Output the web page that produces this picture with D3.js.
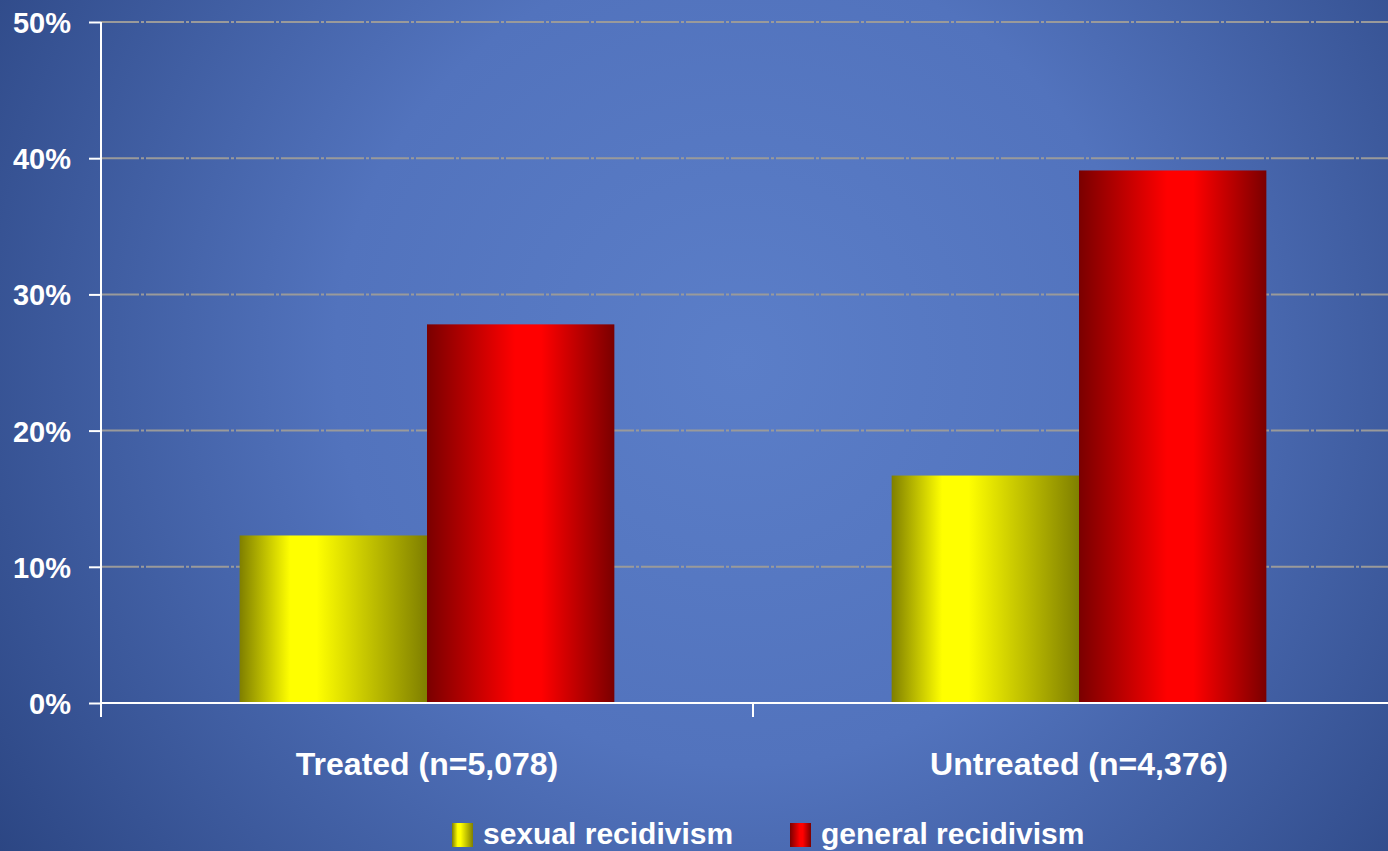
<!DOCTYPE html>
<html lang="en">
<head>
<meta charset="UTF-8">
<title>Recidivism bar chart</title>
<style>
  html, body { margin: 0; padding: 0; background: #4a69b0; overflow: hidden; }
  svg { display: block; }
  text { font-family: "Liberation Sans", Arial, sans-serif; font-weight: bold; fill: #fff; }
</style>
</head>
<body>
<div id="wrapper"></div>
<script src="https://d3js.org/d3.v7.min.js"></script>
<script>
// data
const categories = ["Treated (n=5,078)", "Untreated (n=4,376)"];
const seriesNames = ["sexual recidivism", "general recidivism"];
const sexualValues = [0.123, 0.167];
const generalValues = [0.278, 0.391];
const yTicks = [0, 0.1, 0.2, 0.3, 0.4, 0.5];

const dataset = categories.map((c, i) => ({
  category: c,
  values: [
    { key: seriesNames[0], value: sexualValues[i] },
    { key: seriesNames[1], value: generalValues[i] },
  ],
}));

const width = 1388, height = 851;
const margin = { top: 22, left: 101, bottom: 148 };
const plotBottom = height - margin.bottom; // 703
const plotRight = 1405; // category band runs a little past the edge

const svg = d3.select("#wrapper").append("svg")
  .attr("width", width)
  .attr("height", height);

const defs = svg.append("defs");

// background glow
const bg = defs.append("radialGradient")
  .attr("id", "bg")
  .attr("gradientUnits", "userSpaceOnUse")
  .attr("cx", 740).attr("cy", 360).attr("r", 900);
bg.append("stop").attr("offset", "0").attr("stop-color", "#5b7ec8");
bg.append("stop").attr("offset", "0.45").attr("stop-color", "#5273bd");
bg.append("stop").attr("offset", "1").attr("stop-color", "#2b4582");

// cylinder-like shading for bars
const shades = {
  "sexual recidivism": ["#7f7f00", "#ffff00"],
  "general recidivism": ["#7a0000", "#ff0000"],
};
const peaks = { "sexual recidivism": 0.35, "general recidivism": 0.55 };
seriesNames.forEach((s, i) => {
  const g = defs.append("linearGradient")
    .attr("id", "grad" + i)
    .attr("x1", "0").attr("x2", "1").attr("y1", "0").attr("y2", "0");
  g.append("stop").attr("offset", "0").attr("stop-color", shades[s][0]);
  g.append("stop").attr("offset", peaks[s] - 0.08).attr("stop-color", shades[s][1]);
  g.append("stop").attr("offset", peaks[s] + 0.06).attr("stop-color", shades[s][1]);
  g.append("stop").attr("offset", "1").attr("stop-color", shades[s][0]);
});
const color = d3.scaleOrdinal().domain(seriesNames).range(["url(#grad0)", "url(#grad1)"]);

svg.append("rect").attr("width", width).attr("height", height).attr("fill", "url(#bg)");

// scales
const x0 = d3.scaleBand().domain(categories).range([margin.left, plotRight]).padding(0);
const x1 = d3.scaleBand().domain(seriesNames).range([0, x0.bandwidth()])
  .paddingInner(0).paddingOuter(0.74);
const yScale = d3.scaleLinear().domain([0, 0.5]).range([plotBottom, margin.top]);

// gridlines
svg.append("g")
  .selectAll("line")
  .data(yTicks.filter(d => d > 0))
  .join("line")
  .attr("x1", margin.left).attr("x2", width)
  .attr("y1", d => yScale(d)).attr("y2", d => yScale(d))
  .attr("stroke", "#9a9a9a")
  .attr("stroke-width", 2)
  .attr("stroke-dasharray", "38,2,3,2");

// bars
const groups = svg.append("g")
  .selectAll("g")
  .data(dataset)
  .join("g")
  .attr("transform", d => `translate(${x0(d.category)},0)`);

groups.selectAll("rect")
  .data(d => d.values)
  .join("rect")
  .attr("x", d => x1(d.key))
  .attr("width", x1.bandwidth())
  .attr("y", d => yScale(d.value))
  .attr("height", d => plotBottom - yScale(d.value))
  .attr("fill", d => color(d.key));

// y axis
const yAxis = svg.append("g")
  .attr("transform", `translate(${margin.left},0)`)
  .call(d3.axisLeft(yScale).tickValues(yTicks).tickFormat(d3.format(".0%")).tickSize(12).tickPadding(18));
yAxis.select(".domain").attr("stroke", "#fff").attr("stroke-width", 2)
  .attr("d", `M0,${margin.top}V${plotBottom + 14}`);
yAxis.selectAll(".tick line").attr("stroke", "#fff").attr("stroke-width", 2);
yAxis.selectAll(".tick text")
  .style("font-size", "29px")
  .attr("dy", "0.36em")
  .attr("fill", "#fff");

// x axis with ticks at category boundaries
const xAxis = svg.append("g").attr("transform", `translate(0,${plotBottom})`);
xAxis.append("line")
  .attr("x1", margin.left).attr("x2", width)
  .attr("stroke", "#fff").attr("stroke-width", 2);
xAxis.selectAll(".xtick")
  .data(categories.slice(1))
  .join("line")
  .attr("class", "xtick")
  .attr("x1", d => x0(d)).attr("x2", d => x0(d))
  .attr("y1", 0).attr("y2", 14)
  .attr("stroke", "#fff").attr("stroke-width", 2);
xAxis.selectAll(".xlabel")
  .data(categories)
  .join("text")
  .attr("class", "xlabel")
  .attr("x", d => x0(d) + x0.bandwidth() / 2)
  .attr("y", 72)
  .attr("text-anchor", "middle")
  .style("font-size", "32px")
  .text(d => d);

// legend
const legendX = [452, 790];
const legend = svg.append("g")
  .selectAll("g")
  .data(seriesNames)
  .join("g")
  .attr("transform", (d, i) => `translate(${legendX[i]},823)`);
legend.append("rect")
  .attr("width", 21).attr("height", 24)
  .attr("fill", d => color(d));
legend.append("text")
  .attr("x", 31).attr("y", 21)
  .style("font-size", "30px")
  .text(d => d);
</script>
</body>
</html>
